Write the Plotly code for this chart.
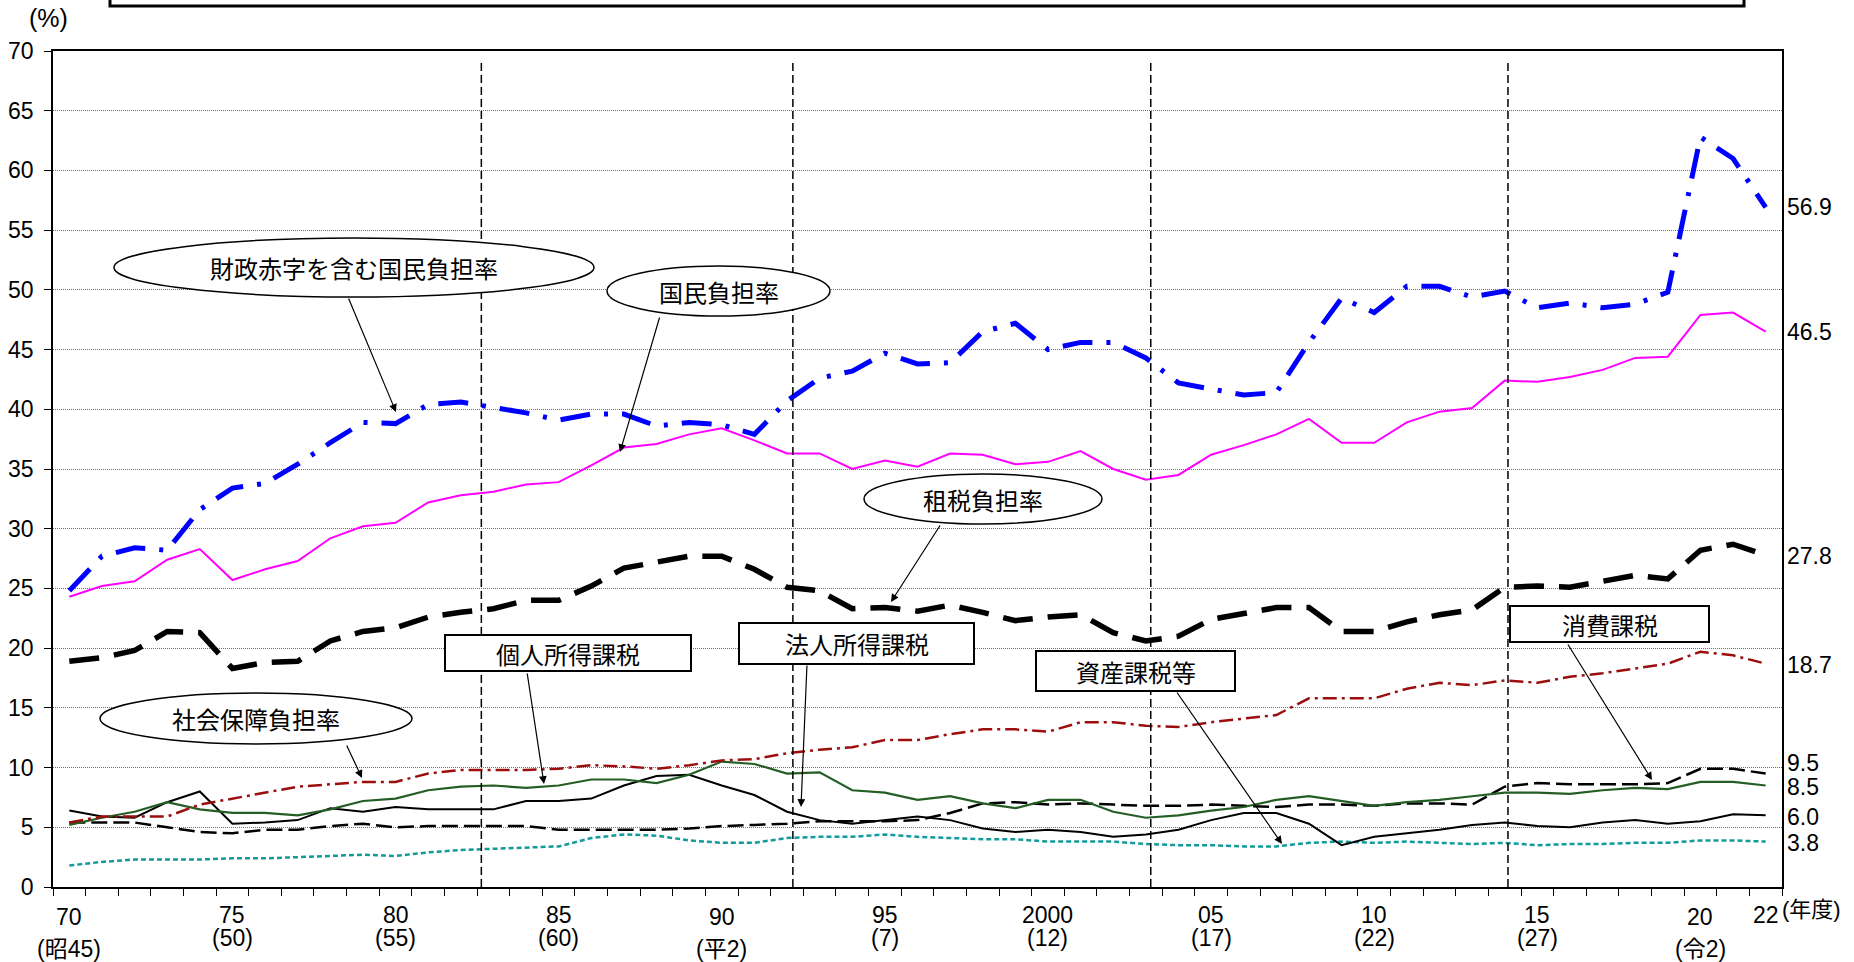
import plotly.graph_objects as go

# ---------------- data ----------------
years = list(range(1970, 2023))

burden_incl_deficit = [24.8, 27.7, 28.4, 28.2, 31.6, 33.4, 33.8, 35.4, 37.2, 38.9,
                       38.8, 40.4, 40.6, 40.2, 39.7, 39.1, 39.6, 39.6, 38.6, 38.9,
                       38.7, 37.9, 40.7, 42.6, 43.2, 44.7, 43.8, 43.9, 46.5, 47.2,
                       45.0, 45.6, 45.6, 44.3, 42.2, 41.7, 41.2, 41.4, 45.6, 49.3,
                       48.1, 50.3, 50.3, 49.4, 49.9, 48.5, 48.9, 48.5, 48.8, 49.8,
                       62.8, 61.0, 56.9]

national_burden = [24.3, 25.2, 25.6, 27.4, 28.3, 25.7, 26.6, 27.3, 29.2, 30.2,
                   30.5, 32.2, 32.8, 33.1, 33.7, 33.9, 35.3, 36.8, 37.1, 37.9,
                   38.4, 37.4, 36.3, 36.3, 35.0, 35.7, 35.2, 36.3, 36.2, 35.4,
                   35.6, 36.5, 35.0, 34.1, 34.5, 36.2, 37.0, 37.9, 39.2, 37.2,
                   37.2, 38.9, 39.8, 40.1, 42.4, 42.3, 42.7, 43.3, 44.3, 44.4,
                   47.9, 48.1, 46.5]

tax_burden = [18.9, 19.2, 19.8, 21.4, 21.3, 18.3, 18.8, 18.9, 20.6, 21.4,
              21.7, 22.6, 23.0, 23.3, 24.0, 24.0, 25.2, 26.7, 27.2, 27.7,
              27.7, 26.6, 25.1, 24.8, 23.3, 23.4, 23.1, 23.6, 23.0, 22.3,
              22.6, 22.8, 21.3, 20.6, 21.0, 22.4, 22.9, 23.4, 23.4, 21.4,
              21.4, 22.2, 22.8, 23.2, 25.1, 25.2, 25.1, 25.6, 26.1, 25.8,
              28.2, 28.7, 27.8]

social_security = [5.4, 5.9, 5.9, 5.9, 6.9, 7.4, 7.9, 8.4, 8.6, 8.8,
                   8.8, 9.5, 9.8, 9.8, 9.8, 9.9, 10.2, 10.1, 9.9, 10.2,
                   10.6, 10.7, 11.2, 11.5, 11.7, 12.3, 12.3, 12.8, 13.2, 13.2,
                   13.0, 13.8, 13.8, 13.5, 13.4, 13.8, 14.1, 14.4, 15.8, 15.8,
                   15.8, 16.6, 17.1, 16.9, 17.3, 17.1, 17.6, 17.9, 18.3, 18.7,
                   19.7, 19.4, 18.7]

personal_income_tax = [5.2, 5.8, 6.3, 7.1, 6.5, 6.2, 6.2, 6.0, 6.5, 7.2,
                       7.4, 8.1, 8.4, 8.5, 8.3, 8.5, 9.0, 9.0, 8.7, 9.4,
                       10.5, 10.3, 9.5, 9.6, 8.1, 7.9, 7.3, 7.6, 7.0, 6.6,
                       7.3, 7.3, 6.3, 5.8, 6.0, 6.4, 6.7, 7.3, 7.6, 7.2,
                       6.8, 7.1, 7.3, 7.6, 7.9, 7.9, 7.8, 8.1, 8.3, 8.2,
                       8.8, 8.8, 8.5]

corporate_income_tax = [6.4, 5.9, 5.8, 7.1, 8.0, 5.3, 5.4, 5.6, 6.6, 6.3,
                        6.7, 6.5, 6.5, 6.5, 7.2, 7.2, 7.4, 8.5, 9.3, 9.4,
                        8.5, 7.7, 6.3, 5.6, 5.3, 5.6, 5.9, 5.6, 4.9, 4.6,
                        4.8, 4.6, 4.2, 4.4, 4.8, 5.6, 6.2, 6.2, 5.3, 3.5,
                        4.2, 4.5, 4.8, 5.2, 5.4, 5.1, 5.0, 5.4, 5.6, 5.3,
                        5.5, 6.1, 6.0]

consumption_tax = [5.4, 5.4, 5.4, 5.0, 4.6, 4.5, 4.8, 4.8, 5.1, 5.3,
                   5.0, 5.1, 5.1, 5.1, 5.1, 4.8, 4.8, 4.8, 4.8, 4.9,
                   5.1, 5.2, 5.3, 5.5, 5.5, 5.5, 5.6, 6.2, 7.0, 7.1,
                   6.9, 7.0, 6.9, 6.8, 6.8, 6.9, 6.8, 6.7, 6.9, 6.9,
                   6.8, 7.0, 7.0, 6.9, 8.4, 8.7, 8.6, 8.6, 8.6, 8.7,
                   9.9, 9.9, 9.5]

property_tax = [1.8, 2.1, 2.3, 2.3, 2.3, 2.4, 2.4, 2.5, 2.6, 2.7,
                2.6, 2.9, 3.1, 3.2, 3.3, 3.4, 4.1, 4.4, 4.3, 3.9,
                3.7, 3.7, 4.1, 4.2, 4.2, 4.4, 4.2, 4.1, 4.0, 4.0,
                3.8, 3.8, 3.8, 3.6, 3.5, 3.5, 3.4, 3.4, 3.7, 3.8,
                3.7, 3.8, 3.7, 3.6, 3.7, 3.5, 3.6, 3.6, 3.7, 3.7,
                3.9, 3.9, 3.8]

x_label_years = [1970, 1975, 1980, 1985, 1990, 1995, 2000, 2005, 2010, 2015, 2020, 2022]
x_labels = ["70", "75", "80", "85", "90", "95", "2000", "05", "10", "15", "20", "22"]
x_sub_labels = ["(昭45)", "(50)", "(55)", "(60)", "(平2)", "(7)", "(12)", "(17)", "(22)", "(27)", "(令2)", ""]
era_label_years = [1970, 1990, 2020]
divider_years = [1982.63, 1992.18, 2003.15, 2014.1]

# ---------------- geometry helpers ----------------
W, H = 1854, 962
L, R, T, B = 53, 1782, 51, 887


def pxx(px):
    return (px - L) / (R - L)


def pxy(py):
    return (B - py) / (B - T)


NUM_FONT = "Liberation Sans Narrow, Liberation Sans, Arial, Noto Sans CJK JP"
JP_FONT = "Noto Sans CJK JP, Noto Sans CJK SC, sans-serif"
NUM_SIZE = 23

fig = go.Figure()

series = [
    (property_tax, "資産課税等", dict(color="#139a9a", width=2.5, dash="5px,3px")),
    (consumption_tax, "消費課税", dict(color="#000000", width=2.5, dash="16px,6px")),
    (corporate_income_tax, "法人所得課税", dict(color="#000000", width=2)),
    (personal_income_tax, "個人所得課税", dict(color="#245e24", width=2.2)),
    (social_security, "社会保障負担率", dict(color="#9c0e0e", width=2.5, dash="14px,5px,3px,5px")),
    (tax_burden, "租税負担率", dict(color="#000000", width=5.5, dash="30px,15px")),
    (national_burden, "国民負担率", dict(color="#ff00ff", width=2)),
    (burden_incl_deficit, "財政赤字を含む国民負担率", dict(color="#0000ff", width=5, dash="30px,14px,4px,14px")),
]
for vals, name, line in series:
    fig.add_trace(go.Scatter(x=years, y=vals, mode="lines", name=name, line=line,
                             hoverinfo="x+y+name"))

shapes = []
for xv in divider_years:
    shapes.append(dict(type="line", xref="x", yref="paper", x0=xv, x1=xv,
                       y0=0, y1=pxy(60), line=dict(color="black", width=1.5, dash="8px,4px"),
                       layer="above"))
shapes.append(dict(type="rect", xref="paper", yref="paper", x0=pxx(110), x1=pxx(1744),
                   y0=pxy(6), y1=pxy(-30), line=dict(color="black", width=3),
                   fillcolor="rgba(0,0,0,0)", layer="above"))

ellipses = [
    ("財政赤字を含む国民負担率", 114, 594, 238, 297),
    ("国民負担率", 607, 830, 266, 316),
    ("租税負担率", 864, 1102, 474, 524),
    ("社会保障負担率", 100, 412, 693, 744),
]
boxes = [
    ("個人所得課税", 445, 691, 635, 671),
    ("法人所得課税", 739, 974, 623, 664),
    ("資産課税等", 1036, 1235, 651, 691),
    ("消費課税", 1510, 1709, 606, 642),
]
annotations = []
for text, x0, x1, y0, y1 in ellipses:
    shapes.append(dict(type="circle", xref="paper", yref="paper", x0=pxx(x0), x1=pxx(x1),
                       y0=pxy(y1), y1=pxy(y0), line=dict(color="black", width=1.5),
                       fillcolor="white", layer="above"))
    annotations.append(dict(text=text, xref="paper", yref="paper", x=pxx((x0 + x1) / 2),
                            y=pxy((y0 + y1) / 2), showarrow=False,
                            font=dict(family=JP_FONT, size=24, color="black"),
                            xanchor="center", yanchor="middle"))
for text, x0, x1, y0, y1 in boxes:
    shapes.append(dict(type="rect", xref="paper", yref="paper", x0=pxx(x0), x1=pxx(x1),
                       y0=pxy(y1), y1=pxy(y0), line=dict(color="black", width=2),
                       fillcolor="white", layer="above"))
    annotations.append(dict(text=text, xref="paper", yref="paper", x=pxx((x0 + x1) / 2),
                            y=pxy((y0 + y1) / 2), showarrow=False,
                            font=dict(family=JP_FONT, size=24, color="black"),
                            xanchor="center", yanchor="middle"))

arrows = [
    ((348, 297), (396, 412)),
    ((660, 316), (620, 452)),
    ((941, 524), (891, 602)),
    ((527, 672), (544, 784)),
    ((807, 664), (801, 807)),
    ((1176, 691), (1282, 844)),
    ((1567, 643), (1652, 780)),
    ((346, 744), (362, 778)),
]
for (tx, ty), (hx, hy) in arrows:
    annotations.append(dict(text="", xref="paper", yref="paper", x=pxx(hx), y=pxy(hy),
                            ax=tx - hx, ay=ty - hy, axref="pixel", ayref="pixel",
                            showarrow=True, arrowhead=2, arrowsize=1.3, arrowwidth=1.2,
                            arrowcolor="black", standoff=0, startstandoff=0))

for yr, lab, sub in zip(x_label_years, x_labels, x_sub_labels):
    era = yr in era_label_years
    annotations.append(dict(text=lab, xref="x", yref="paper", x=yr,
                            y=pxy(917.5 if era else 914.5), showarrow=False,
                            font=dict(family=NUM_FONT, size=NUM_SIZE, color="black"),
                            xanchor="center", yanchor="middle"))
    if sub:
        annotations.append(dict(text=sub, xref="x", yref="paper", x=yr,
                                y=pxy(949.5 if era else 938), showarrow=False,
                                font=dict(family=NUM_FONT, size=NUM_SIZE, color="black"),
                                xanchor="center", yanchor="middle"))
annotations.append(dict(text="(年度)", xref="paper", yref="paper", x=pxx(1780), y=pxy(909),
                        showarrow=False, font=dict(family=NUM_FONT, size=22, color="black"),
                        xanchor="left", yanchor="middle"))
annotations.append(dict(text="(%)", xref="paper", yref="paper", x=pxx(48), y=pxy(18),
                        showarrow=False, font=dict(family=NUM_FONT, size=25, color="black"),
                        xanchor="center", yanchor="middle"))

end_labels = [
    (burden_incl_deficit[-1], 0.0),
    (national_burden[-1], 0.0),
    (tax_burden[-1], -0.1),
    (social_security[-1], -0.1),
    (consumption_tax[-1], 0.9),
    (personal_income_tax[-1], -0.1),
    (corporate_income_tax[-1], -0.1),
    (property_tax[-1], -0.1),
]
for v, off in end_labels:
    annotations.append(dict(text=f"{v:.1f}", xref="paper", yref="y", x=pxx(1785), y=v + off,
                            showarrow=False, font=dict(family=NUM_FONT, size=NUM_SIZE, color="black"),
                            xanchor="left", yanchor="middle"))

boundaries = [y - 0.5 for y in years] + [years[-1] + 0.5]

fig.update_layout(
    width=W, height=H, autosize=False,
    margin=dict(l=L, r=W - R, t=T, b=H - B, pad=0, autoexpand=False),
    paper_bgcolor="white", plot_bgcolor="white",
    showlegend=False,
    shapes=shapes, annotations=annotations,
    xaxis=dict(range=[1969.5, 2022.5], tickmode="array", tickvals=boundaries,
               ticktext=["" for _ in boundaries], ticks="outside", ticklen=7, tickwidth=1,
               tickcolor="black", showgrid=False, zeroline=False, showline=True,
               linecolor="black", linewidth=2, mirror=True, automargin=False),
    yaxis=dict(range=[0, 70], tickmode="linear", tick0=0, dtick=5, ticks="outside",
               ticklen=7, tickwidth=1, tickcolor="black", showgrid=True,
               gridcolor="#6e6e6e", gridwidth=1.2, griddash="1px,1px", zeroline=False,
               showline=True, linecolor="black", linewidth=1.5, mirror=True,
               tickfont=dict(family=NUM_FONT, size=NUM_SIZE, color="black"),
               ticklabelstandoff=6, automargin=False),
)

fig.write_html("out.html")
